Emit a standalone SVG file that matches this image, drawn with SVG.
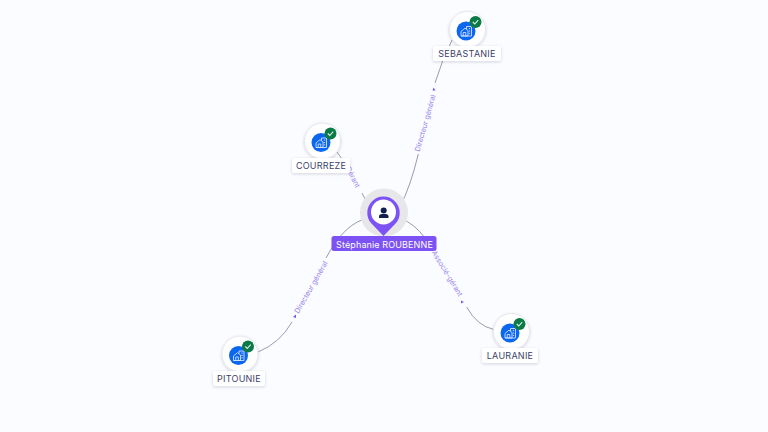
<svg xmlns="http://www.w3.org/2000/svg" width="768" height="432" viewBox="0 0 768 432">
<defs>
<filter id="sh" x="-30%" y="-30%" width="160%" height="160%"><feDropShadow dx="0" dy="1" stdDeviation="1.6" flood-color="#1a1f4a" flood-opacity="0.18"/></filter>
<g id="co">
<circle cx="1.500" cy="-1.500" r="18" fill="#fff" stroke="#e6e7ee" stroke-width="1" filter="url(#sh)"/>
<circle r="9.500" fill="#0b66f0"/>
<path d="M-5 5V.5L-1 -2.800L2-.5V5ZM-5 5H5.500V-4.500H.5V-2M-2.800 5V1.500H-.2V5M2.800-2.400H4.200M2.800 0H4.200M2.800 2.400H4.200" fill="none" stroke="#cfe0ff" stroke-width=".9"/>
<circle cx="9.500" cy="-9" r="6" fill="#0b7a46"/>
<path d="M6.800-9L8.800-7L12.200-10.800" fill="none" stroke="#dff3e8" stroke-width="1.100"/>
</g>
</defs>
<style>
.c{fill:none;stroke:#7f8298;stroke-width:.8}
.l{font:7.200px "Inter","Liberation Sans",sans-serif;fill:#9a86ee}
.t{font:9px "Inter","Liberation Sans",sans-serif;fill:#3c3f68;text-anchor:middle;letter-spacing:.25px}
.b{fill:#fff;filter:url(#sh)}
.a{fill:#7a55f0}
</style>
<rect width="768" height="432" fill="#fbfcff"/>
<g id="connectors">
<path class="c" d="M400 207Q411 185 418.300 154"/>
<path class="c" d="M435 83Q442 60 452 40"/>
<path class="c" d="M368 207Q366 200 362 193"/>
<path class="c" d="M337 152L344 162"/>
<path class="c" d="M369 218Q345 222 326 258"/>
<path class="c" d="M292 322Q280 343 258 352"/>
<path class="c" d="M400 218Q415 224 425 238"/>
<path class="c" d="M466.700 307Q477 326 494 329.500"/>
<text class="l" transform="translate(419.500 152) rotate(-74)">Directeur général</text>
<text class="l" transform="translate(345.500 168) rotate(63)">Gérant</text>
<text class="l" transform="translate(298.500 314) rotate(-60)">Directeur général</text>
<text class="l" transform="translate(431.500 252.500) rotate(58.500)">Associé-gérant</text>
<path class="a" d="M433.500 87.500L435.500 90.500H432.500Z"/>
<path class="a" d="M293 317L296 314.500V318Z"/>
<path class="a" d="M464 302L461 300.500V303.500Z"/>
</g>
<g id="courreze"><use href="#co" x="321" y="142.500"/><rect class="b" x="292" y="158" width="58" height="15" rx="2"/><text class="t" x="321" y="169">COURREZE</text></g>
<g id="sebastanie"><use href="#co" x="466" y="31"/><rect class="b" x="433" y="46" width="68" height="15" rx="2"/><text class="t" x="467" y="57">SEBASTANIE</text></g>
<g id="pitounie"><use href="#co" x="238.500" y="355.500"/><rect class="b" x="213" y="371" width="52" height="15" rx="2"/><text class="t" x="239" y="382">PITOUNIE</text></g>
<g id="lauranie"><use href="#co" x="510" y="333"/><rect class="b" x="482" y="348" width="56" height="15" rx="2"/><text class="t" x="510" y="359">LAURANIE</text></g>
<g id="person">
<circle cx="384" cy="212.500" r="24" fill="#e7e7ea"/>
<path d="M383.500 236L371 223A16.200 16.200 0 1 1 396 223Z" fill="#7c52f5"/>
<circle cx="383.500" cy="212" r="12.500" fill="#fff"/>
<circle cx="383.700" cy="210.500" r="3" fill="#12204f"/>
<path d="M379 218V216.500Q379 214 382 214H385.500Q388.500 214 388.500 216.500V218Z" fill="#12204f"/>
<rect x="331.500" y="236" width="105" height="15" rx="2.500" fill="#7c52f5"/>
<text x="384.500" y="247.500" text-anchor="middle" style="font:9px 'Inter','Liberation Sans',sans-serif;fill:#fff;letter-spacing:.12px">Stéphanie ROUBENNE</text>
</g>
</svg>
